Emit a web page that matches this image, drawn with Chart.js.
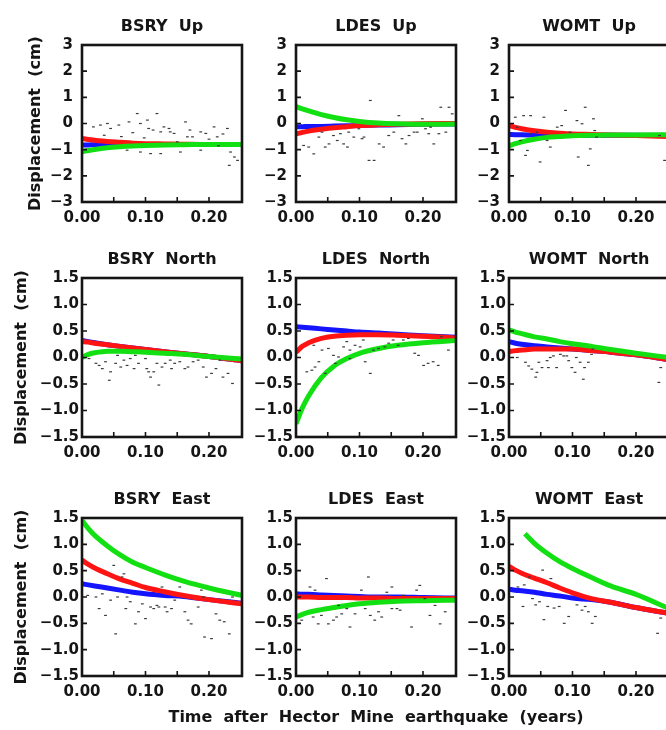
<!DOCTYPE html>
<html>
<head>
<meta charset="utf-8">
<title>Hector Mine postseismic displacements</title>
<script src="https://cdn.jsdelivr.net/npm/chart.js@4.4.1/dist/chart.umd.min.js"></script>
<style>
  html, body { margin: 0; padding: 0; background: #fff; width: 666px; height: 730px; overflow: hidden; }
  canvas { position: absolute; }
</style>
</head>
<body>
<script>
// ============================================
// Hector Mine - desplazamientos GPS (BSRY, LDES, WOMT)
// ============================================

// ---- ejes ----
const xTickValues = [0, 0.05, 0.10, 0.15, 0.20];
const xTickLabels = ['0.00', '', '0.10', '', '0.20'];
const upTickValues = [-3, -2, -1, 0, 1, 2, 3];
const upTickLabels = ['\u22123', '\u22122', '\u22121', '0', '1', '2', '3'];
const enTickValues = [-1.5, -1.0, -0.5, 0, 0.5, 1.0, 1.5];
const enTickLabels = ['\u22121.5', '\u22121.0', '\u22120.5', '0.0', '0.5', '1.0', '1.5'];
const xAxisTitle = 'Time  after  Hector  Mine  earthquake  (years)';
const yAxisTitle = 'Displacement  (cm)';

// tiempos en los que se leen las curvas de modelo (años)
const curveT = [0, 0.01, 0.02, 0.04, 0.06, 0.08, 0.10, 0.13, 0.16, 0.20, 0.252];

// ---- BSRY Up ----
const bsryUpT = [0.018, 0.029, 0.045, 0.058, 0.074, 0.087, 0.092, 0.103, 0.105, 0.118, 0.124, 0.129, 0.137, 0.139, 0.145, 0.163, 0.166, 0.174, 0.187, 0.195, 0.208, 0.213, 0.229, 0.234, 0.240, 0.232, 0.245, 0.071, 0.092, 0.108, 0.124, 0.155, 0.187, 0.035, 0.062, 0.080, 0.098, 0.150, 0.200, 0.215, 0.040, 0.112, 0.170, 0.222];
const bsryUpD = [-0.13, -0.06, -0.19, -0.06, 0.06, 0.38, 0.00, 0.13, -0.19, 0.38, -0.32, -0.13, -0.19, -0.32, -0.38, 0.06, -0.51, -0.51, -0.32, -0.38, -0.13, -0.51, -0.19, -1.09, -1.28, -1.60, -1.41, -1.02, -1.09, -1.15, -1.15, -1.09, -1.02, -0.45, -0.50, -0.35, -0.55, -0.70, -0.60, -0.85, 0.00, -0.25, -0.25, -0.40];
const bsryUpBlue = [-0.82, -0.82, -0.81, -0.81, -0.81, -0.80, -0.80, -0.80, -0.80, -0.80, -0.80];
const bsryUpRed = [-0.57, -0.61, -0.64, -0.69, -0.72, -0.75, -0.77, -0.78, -0.79, -0.80, -0.80];
const bsryUpGreen = [-1.08, -1.03, -0.99, -0.93, -0.89, -0.86, -0.84, -0.82, -0.81, -0.80, -0.80];

// ---- LDES Up ----
const ldesUpT = [0.012, 0.020, 0.028, 0.036, 0.041, 0.046, 0.052, 0.059, 0.065, 0.070, 0.075, 0.081, 0.083, 0.091, 0.099, 0.104, 0.107, 0.115, 0.123, 0.117, 0.131, 0.138, 0.146, 0.154, 0.162, 0.167, 0.173, 0.178, 0.186, 0.191, 0.199, 0.204, 0.209, 0.212, 0.217, 0.225, 0.228, 0.236, 0.241, 0.246];
const ldesUpD = [-0.84, -0.90, -1.16, -0.52, -0.33, -0.90, -0.78, -0.46, -0.65, -0.39, -0.78, -0.90, -0.33, -0.52, -0.20, -0.58, -0.52, -1.41, -1.41, 0.88, -0.78, -0.90, -0.46, -0.33, 0.30, -0.58, -0.78, -0.46, -0.33, -0.33, 0.18, -0.20, -0.39, -0.14, -0.78, -0.39, 0.62, -0.33, 0.62, 0.37];
const ldesUpBlue = [-0.12, -0.12, -0.11, -0.11, -0.10, -0.09, -0.08, -0.06, -0.05, -0.03, -0.02];
const ldesUpRed = [-0.40, -0.34, -0.29, -0.22, -0.16, -0.12, -0.08, -0.05, -0.03, -0.01, 0.00];
const ldesUpGreen = [0.65, 0.56, 0.48, 0.34, 0.23, 0.14, 0.08, 0.02, -0.01, -0.03, -0.02];

// ---- WOMT Up ----
const womtUpT = [0.010, 0.023, 0.034, 0.055, 0.076, 0.089, 0.107, 0.120, 0.133, 0.135, 0.115, 0.029, 0.026, 0.049, 0.065, 0.109, 0.125, 0.128, 0.138, 0.237, 0.245, 0.034, 0.044, 0.018, 0.060, 0.083, 0.013, 0.096];
const womtUpD = [0.24, 0.30, 0.30, 0.24, -0.14, 0.50, 0.11, 0.62, 0.18, -0.27, -0.01, -1.03, -1.22, -1.47, -0.90, -1.28, -1.60, -0.97, -0.52, -0.46, -1.41, -0.39, -0.33, -0.65, -0.65, -0.08, -0.14, -0.33];
const womtUpBlue = [-0.42, -0.43, -0.43, -0.44, -0.44, -0.44, -0.44, -0.45, -0.45, -0.45, -0.46];
const womtUpRed = [-0.08, -0.15, -0.20, -0.28, -0.33, -0.37, -0.40, -0.42, -0.44, -0.46, -0.50];
const womtUpGreen = [-0.85, -0.77, -0.70, -0.60, -0.53, -0.50, -0.47, -0.45, -0.44, -0.44, -0.43];

// ---- BSRY North ----
const bsryNorthT = [0.022, 0.027, 0.032, 0.043, 0.045, 0.053, 0.056, 0.061, 0.066, 0.071, 0.076, 0.082, 0.084, 0.089, 0.100, 0.102, 0.108, 0.113, 0.118, 0.121, 0.126, 0.131, 0.139, 0.146, 0.154, 0.162, 0.167, 0.175, 0.183, 0.191, 0.196, 0.204, 0.211, 0.217, 0.222, 0.230, 0.237, 0.105, 0.141, 0.037, 0.011];
const bsryNorthD = [-0.11, -0.15, -0.21, -0.43, -0.27, -0.11, 0.04, -0.18, -0.05, -0.15, -0.02, -0.21, 0.04, -0.11, -0.02, -0.21, -0.37, -0.27, -0.11, -0.52, -0.18, -0.11, -0.05, -0.11, -0.08, -0.21, -0.18, -0.08, -0.05, -0.18, -0.37, -0.30, -0.21, -0.05, -0.37, -0.30, -0.49, -0.27, -0.21, -0.08, -0.02];
const bsryNorthBlue = [0.32, 0.30, 0.28, 0.24, 0.21, 0.18, 0.15, 0.11, 0.07, 0.02, -0.06];
const bsryNorthRed = [0.30, 0.29, 0.27, 0.24, 0.21, 0.18, 0.15, 0.11, 0.07, 0.02, -0.06];
const bsryNorthGreen = [0.00, 0.06, 0.09, 0.12, 0.12, 0.11, 0.10, 0.08, 0.06, 0.02, -0.03];

// ---- LDES North ----
const ldesNorthT = [0.017, 0.025, 0.030, 0.036, 0.046, 0.051, 0.059, 0.067, 0.075, 0.080, 0.085, 0.093, 0.101, 0.109, 0.117, 0.122, 0.130, 0.140, 0.146, 0.153, 0.161, 0.169, 0.177, 0.187, 0.193, 0.201, 0.208, 0.216, 0.224, 0.229, 0.028, 0.041, 0.106, 0.062, 0.085, 0.240];
const ldesNorthD = [-0.27, -0.24, -0.18, -0.08, -0.30, 0.17, 0.04, 0.01, 0.20, 0.30, 0.14, 0.23, 0.20, -0.08, -0.30, 0.14, 0.17, 0.20, 0.27, 0.33, 0.23, 0.33, 0.36, 0.08, 0.04, -0.15, -0.11, -0.08, -0.15, 0.39, 0.23, 0.14, 0.33, -0.11, -0.02, 0.14];
const ldesNorthBlue = [0.58, 0.57, 0.56, 0.54, 0.52, 0.50, 0.48, 0.46, 0.44, 0.41, 0.38];
const ldesNorthRed = [0.10, 0.21, 0.28, 0.36, 0.40, 0.42, 0.43, 0.43, 0.42, 0.40, 0.37];
const ldesNorthGreen = [-1.25, -0.95, -0.72, -0.38, -0.16, -0.02, 0.08, 0.17, 0.23, 0.28, 0.32];

// ---- WOMT North ----
const womtNorthT = [0.013, 0.026, 0.031, 0.036, 0.042, 0.044, 0.052, 0.060, 0.062, 0.065, 0.070, 0.075, 0.081, 0.086, 0.091, 0.099, 0.104, 0.106, 0.112, 0.117, 0.119, 0.125, 0.130, 0.132, 0.239, 0.236, 0.047, 0.094];
const womtNorthD = [0.00, -0.09, -0.16, -0.22, -0.37, -0.28, -0.19, -0.06, -0.19, 0.00, 0.03, -0.19, 0.06, 0.03, 0.03, -0.19, -0.28, 0.00, -0.09, -0.41, -0.19, -0.09, 0.06, 0.16, -0.19, -0.47, -0.09, -0.06];
const womtNorthBlue = [0.30, 0.27, 0.25, 0.22, 0.20, 0.18, 0.16, 0.13, 0.10, 0.05, -0.04];
const womtNorthRed = [0.11, 0.13, 0.14, 0.16, 0.16, 0.16, 0.16, 0.13, 0.10, 0.05, -0.04];
const womtNorthGreen = [0.52, 0.48, 0.45, 0.39, 0.35, 0.30, 0.26, 0.21, 0.15, 0.08, 0.00];

// ---- BSRY East ----
const bsryEastT = [0.009, 0.022, 0.027, 0.032, 0.037, 0.045, 0.050, 0.053, 0.056, 0.063, 0.066, 0.069, 0.071, 0.076, 0.084, 0.089, 0.095, 0.100, 0.108, 0.113, 0.118, 0.121, 0.126, 0.131, 0.134, 0.141, 0.146, 0.154, 0.162, 0.167, 0.172, 0.183, 0.191, 0.193, 0.204, 0.211, 0.217, 0.224, 0.232, 0.237, 0.188];
const bsryEastD = [0.03, 0.00, -0.22, 0.06, -0.35, -0.06, 0.60, -0.70, 0.00, 0.38, 0.44, -0.22, 0.00, -0.09, -0.51, -0.28, -0.13, -0.41, -0.19, -0.22, -0.16, -0.19, 0.19, -0.19, -0.28, -0.22, -0.06, 0.19, -0.28, -0.44, -0.51, -0.19, 0.00, -0.76, -0.79, -0.32, -0.44, -0.47, -0.70, 0.00, 0.13];
const bsryEastBlue = [0.25, 0.23, 0.21, 0.17, 0.13, 0.09, 0.06, 0.03, 0.01, -0.05, -0.12];
const bsryEastRed = [0.70, 0.62, 0.55, 0.44, 0.34, 0.26, 0.18, 0.10, 0.03, -0.05, -0.13];
const bsryEastGreen = [1.45, 1.30, 1.17, 0.97, 0.80, 0.66, 0.56, 0.42, 0.30, 0.17, 0.03];

// ---- LDES East ----
const ldesEastT = [0.009, 0.022, 0.027, 0.035, 0.040, 0.048, 0.051, 0.059, 0.064, 0.072, 0.080, 0.085, 0.093, 0.109, 0.114, 0.117, 0.124, 0.130, 0.135, 0.143, 0.151, 0.159, 0.164, 0.169, 0.182, 0.190, 0.195, 0.203, 0.211, 0.219, 0.227, 0.235, 0.030, 0.067, 0.103, 0.151];
const ldesEastD = [-0.44, 0.19, -0.38, -0.51, -0.35, 0.35, -0.51, -0.44, -0.38, -0.32, -0.22, -0.57, -0.32, -0.22, 0.38, -0.35, -0.44, -0.28, -0.38, 0.09, -0.22, -0.22, -0.25, 0.03, -0.57, 0.13, 0.22, -0.03, -0.35, -0.16, -0.51, -0.28, 0.13, -0.16, 0.13, 0.19];
const ldesEastBlue = [0.06, 0.05, 0.05, 0.04, 0.03, 0.02, 0.01, 0.00, 0.00, -0.01, -0.02];
const ldesEastRed = [0.00, 0.00, 0.00, -0.01, -0.01, -0.01, -0.02, -0.02, -0.03, -0.03, -0.03];
const ldesEastGreen = [-0.38, -0.33, -0.29, -0.24, -0.20, -0.16, -0.13, -0.10, -0.08, -0.07, -0.06];

// ---- WOMT East ----
const womtEastT = [0.014, 0.022, 0.032, 0.037, 0.042, 0.053, 0.055, 0.061, 0.066, 0.071, 0.079, 0.087, 0.094, 0.107, 0.115, 0.120, 0.125, 0.131, 0.136, 0.234, 0.239, 0.048, 0.024];
const womtEastD = [0.19, -0.18, 0.38, -0.03, -0.15, 0.51, -0.43, -0.18, 0.35, -0.21, -0.18, -0.50, -0.37, -0.15, -0.25, -0.18, -0.28, -0.50, -0.37, -0.69, -0.40, -0.09, 0.23];
const womtEastBlue = [0.15, 0.13, 0.12, 0.09, 0.05, 0.02, -0.02, -0.05, -0.10, -0.20, -0.31];
const womtEastRed = [0.58, 0.51, 0.45, 0.36, 0.27, 0.17, 0.08, -0.03, -0.10, -0.20, -0.31];
const womtEastGreenT = [0.025, 0.04, 0.06, 0.08, 0.10, 0.13, 0.16, 0.20, 0.252];
const womtEastGreen = [1.20, 1.02, 0.83, 0.67, 0.54, 0.37, 0.21, 0.05, -0.22];

// ---- paneles ----
const panels = [
    { title: 'BSRY  Up', row: 0, col: 0, t: bsryUpT, d: bsryUpD, blue: bsryUpBlue, red: bsryUpRed, green: bsryUpGreen },
    { title: 'LDES  Up', row: 0, col: 1, t: ldesUpT, d: ldesUpD, blue: ldesUpBlue, red: ldesUpRed, green: ldesUpGreen },
    { title: 'WOMT  Up', row: 0, col: 2, t: womtUpT, d: womtUpD, blue: womtUpBlue, red: womtUpRed, green: womtUpGreen },
    { title: 'BSRY  North', row: 1, col: 0, t: bsryNorthT, d: bsryNorthD, blue: bsryNorthBlue, red: bsryNorthRed, green: bsryNorthGreen },
    { title: 'LDES  North', row: 1, col: 1, t: ldesNorthT, d: ldesNorthD, blue: ldesNorthBlue, red: ldesNorthRed, green: ldesNorthGreen },
    { title: 'WOMT  North', row: 1, col: 2, t: womtNorthT, d: womtNorthD, blue: womtNorthBlue, red: womtNorthRed, green: womtNorthGreen },
    { title: 'BSRY  East', row: 2, col: 0, t: bsryEastT, d: bsryEastD, blue: bsryEastBlue, red: bsryEastRed, green: bsryEastGreen },
    { title: 'LDES  East', row: 2, col: 1, t: ldesEastT, d: ldesEastD, blue: ldesEastBlue, red: ldesEastRed, green: ldesEastGreen, xTitle: xAxisTitle },
    { title: 'WOMT  East', row: 2, col: 2, t: womtEastT, d: womtEastD, blue: womtEastBlue, red: womtEastRed, green: womtEastGreen, greenT: womtEastGreenT }
];

// ---- geometría de la figura ----
const colLeft = [82, 296, 509];
const rowTop = [45, 278, 518];
const rowBottom = [202, 437, 676];
const plotW = 160;
const FONT = "'DejaVu Sans', 'Liberation Sans', sans-serif";

Chart.defaults.font.family = FONT;
Chart.defaults.font.weight = 'bold';
Chart.defaults.color = '#151515';

// marco + marcas de graduación hacia dentro
const frameTicks = {
    id: 'frameTicks',
    afterDatasetsDraw(chart) {
        const { ctx, chartArea: a, scales: { x, y } } = chart;
        ctx.save();
        ctx.strokeStyle = '#151515';
        ctx.lineWidth = 1.6;
        ctx.beginPath();
        x.ticks.forEach(t => {
            if (t.value <= x.min || t.value >= x.max) return;
            const px = x.getPixelForValue(t.value);
            ctx.moveTo(px, a.bottom);
            ctx.lineTo(px, a.bottom - 5);
        });
        y.ticks.forEach(t => {
            if (t.value <= y.min || t.value >= y.max) return;
            const py = y.getPixelForValue(t.value);
            ctx.moveTo(a.left, py);
            ctx.lineTo(a.left + 5, py);
        });
        ctx.stroke();
        ctx.lineWidth = 2.6;
        ctx.strokeRect(a.left, a.top, a.width, a.height);
        ctx.restore();
    }
};

// título común del eje x (sin límite de ancho, centrado bajo el panel central)
const xCaption = {
    id: 'xCaption',
    afterDraw(chart, args, opts) {
        if (!opts.text) return;
        const { ctx, chartArea: a } = chart;
        ctx.save();
        ctx.font = 'bold 16px ' + FONT;
        ctx.fillStyle = '#151515';
        ctx.textAlign = 'center';
        ctx.textBaseline = 'middle';
        ctx.fillText(opts.text, (a.left + a.right) / 2, a.bottom + opts.offset);
        ctx.restore();
    }
};

function toXY(ts, vs) {
    return ts.map((t, i) => ({ x: t, y: vs[i] }));
}

function curve(ts, vs, color) {
    return {
        data: toXY(ts, vs),
        showLine: true,
        borderColor: color,
        backgroundColor: color,
        borderWidth: 5,
        pointRadius: 0,
        cubicInterpolationMode: 'monotone'
    };
}

function makePanel(p) {
    const isUp = p.row === 0;
    const leftCol = p.col === 0;
    const axisW = leftCol ? colLeft[0] : 60;
    const padL = p.xTitle ? 100 : 0;
    const padR = p.xTitle ? 150 : 10;
    const titleH = 30;
    const plotH = rowBottom[p.row] - rowTop[p.row];
    const xAxisH = p.xTitle ? 54 : 30;

    const canvas = document.createElement('canvas');
    const width = padL + axisW + plotW + padR;
    const height = titleH + plotH + xAxisH;
    canvas.width = width;
    canvas.height = height;
    canvas.style.left = (colLeft[p.col] - axisW - padL) + 'px';
    canvas.style.top = (rowTop[p.row] - titleH) + 'px';
    canvas.style.width = width + 'px';
    canvas.style.height = height + 'px';
    document.body.appendChild(canvas);

    const yVals = isUp ? upTickValues : enTickValues;
    const yLabels = isUp ? upTickLabels : enTickLabels;

    return new Chart(canvas, {
        type: 'scatter',
        data: {
            datasets: [
                {
                    data: toXY(p.t, p.d),
                    pointStyle: 'line',
                    pointRadius: 1.4,
                    borderWidth: 1.2,
                    borderColor: '#3a3a3a',
                    backgroundColor: '#3a3a3a'
                },
                curve(p.greenT || curveT, p.green, '#12e012'),
                curve(curveT, p.red, '#ff1414'),
                curve(curveT, p.blue, '#1414ff')
            ]
        },
        options: {
            responsive: false,
            animation: false,
            events: [],
            layout: { padding: { left: padL, right: padR, top: 0, bottom: 0 } },
            plugins: {
                legend: { display: false },
                tooltip: { enabled: false },
                title: {
                    display: true,
                    fullSize: false,
                    text: p.title,
                    color: '#151515',
                    font: { size: 16, weight: 'bold', family: FONT, lineHeight: 1.2 },
                    padding: { top: 2, bottom: 8.8 }
                },
                xCaption: { text: p.xTitle || '', offset: 42 }
            },
            scales: {
                x: {
                    type: 'linear',
                    min: 0,
                    max: 0.252,
                    grid: { display: false, drawTicks: false },
                    border: { display: false },
                    afterBuildTicks: s => { s.ticks = xTickValues.map(v => ({ value: v })); },
                    afterFit: s => { s.height = xAxisH; },
                    ticks: {
                        autoSkip: false,
                        maxRotation: 0,
                        padding: 7,
                        color: '#151515',
                        font: { size: 15, weight: 'bold', family: FONT },
                        callback: (v, i) => xTickLabels[i]
                    }
                },
                y: {
                    type: 'linear',
                    min: yVals[0],
                    max: yVals[yVals.length - 1],
                    grid: { display: false, drawTicks: false },
                    border: { display: false },
                    afterBuildTicks: s => { s.ticks = yVals.map(v => ({ value: v })); },
                    afterFit: s => { s.width = axisW; },
                    ticks: {
                        autoSkip: false,
                        padding: isUp ? 9 : 3,
                        color: '#151515',
                        font: { size: 15, weight: 'bold', family: FONT },
                        callback: (v, i) => yLabels[i]
                    },
                    title: {
                        display: leftCol,
                        text: yAxisTitle,
                        color: '#151515',
                        font: { size: 16, weight: 'bold', family: FONT, lineHeight: 1.2 },
                        padding: { top: isUp ? 26.4 : 12.4, bottom: 0 }
                    }
                }
            }
        },
        plugins: [frameTicks, xCaption]
    });
}

panels.forEach(makePanel);
</script>
</body>
</html>
